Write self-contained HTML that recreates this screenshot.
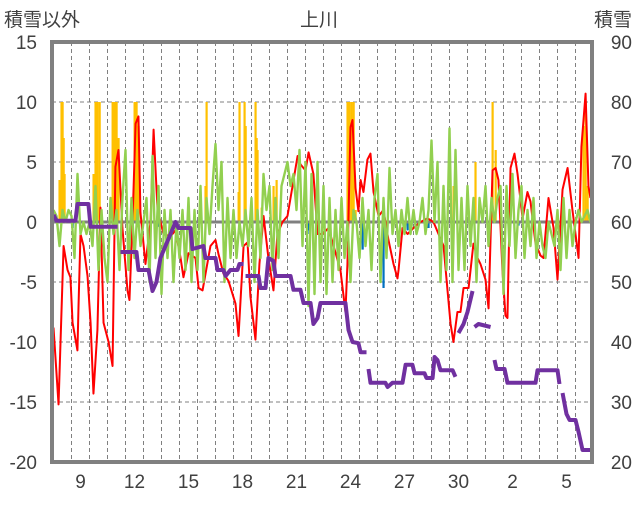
<!DOCTYPE html>
<html><head><meta charset="utf-8"><style>
html,body{margin:0;padding:0;background:#fff}
svg text{font-family:"Liberation Sans","Noto Sans CJK JP",sans-serif;fill:#404040}
</style></head><body>
<svg id="c" width="636" height="501" viewBox="0 0 636 501" xmlns="http://www.w3.org/2000/svg">
<g id="grid"></g>
<g id="bars"></g>
<g id="lines"></g>
<g id="axes"></g>
<text x="4" y="26" font-size="19">積雪以外</text>
<text x="319" y="26" font-size="19" text-anchor="middle">上川</text>
<text x="632" y="26" font-size="19" text-anchor="end">積雪</text>
</svg>
<script>
const leftTicks=[15,10,5,0,-5,-10,-15,-20];
const rightTicks=[90,80,70,60,50,40,30,20];
const dayLabels=["9","12","15","18","21","24","27","30","2","5"];
const dayLabelIdx=[1,4,7,10,13,16,19,22,25,28];
const redT=[0,.28,.56,.78,.94,1.06,1.33,1.39,1.5,1.67,1.89,2.06,2.22,2.44,2.61,2.78,3.06,3.28,3.44,3.61,3.83,4.11,4.22,4.39,4.56,4.72,4.83,5.11,5.39,5.56,5.78,6.11,6.5,6.78,7.06,7.22,7.5,7.89,8.06,8.28,8.72,9,9.17,9.44,9.72,10.11,10.28,10.56,10.78,10.94,11.22,11.44,11.67,11.94,12.22,12.44,12.72,13,13.28,13.56,13.72,14,14.17,14.44,14.67,14.94,15.28,15.56,15.94,16.22,16.33,16.5,16.61,16.78,16.94,17.06,17.22,17.44,17.61,17.78,18.06,18.33,18.61,18.89,19.11,19.17,19.39,19.67,20,20.39,20.78,21.11,21.39,21.67,21.89,22.06,22.22,22.44,22.61,22.78,23.06,23.33,23.56,23.72,24,24.17,24.39,24.56,24.72,24.94,25.11,25.22,25.39,25.61,25.78,26.06,26.33,26.5,26.78,27.06,27.22,27.5,27.78,28,28.28,28.56,28.83,29,29.17,29.33,29.56,29.72,29.83];
const redV=[-8.8,-15.2,-2,-4,-4.6,-8.4,-10.7,-7,-1,-2,-4.5,-8.4,-14.3,-9,1.2,-8.4,-10,-12,4.6,6,-0.5,-5.7,-6.5,0,8.2,8.8,0.8,-3.5,0,7.7,1,-1,-1.2,-0.7,-3,-4.6,-2.6,-3,-5.5,-5.7,-2,-1.5,-2.7,-4.3,-4.9,-6.8,-9.5,-2,-1.7,-6.2,-9.8,-3.5,0.5,-3,-5.7,-1,0,0.5,3,5.5,4.8,4.3,5.8,4,-1,-1,-0.5,-2,-4,-7.5,-3.5,7.9,8.5,2.8,0.9,3.5,2.5,5.2,5.7,2.5,0.5,1,-1.5,-3.5,-4.7,-4,-0.5,-1,-0.5,0,0.3,0,-1,-2,-5.7,-8.5,-10,-7.5,-7.5,-5.5,-5.5,-1.8,-3,-3.5,-4.8,-7.2,4.3,4.5,3.5,-4,-7.8,-8,4.5,5.7,4,0.3,2.5,1.7,-1.8,-2.8,-3,2,-0.5,-4.8,2.7,4.5,1,-1,-3,6.3,10.7,3,2];
const greenV=[1,0.5,-2,1,0,1, 0.5,-3,4,-1,0,-1, 0,-2,3,-4,1,-3, -5,2,-1,1,-4,2, 6,-4,2,-3,1,-2, 0,2,-5,5.5,-3,3, -6,1,-3,1,-5,0, -3,1,-4,2,-5,1, -4,3,-5,2,-1,3, 6.5,1,5,-5,2,-3, 1,-3,0,-2,1,-2, 2,-5,1,-3,4,1, 3,-4,2,-3,3,4, 5,3,4,1,6,-2, 5,-7,4,-6,5,-5, 3,-6,2,-5,1,-4, 2,-3,0,-5,1,0, -3,2,-2,1,-4,2, 4,-5,2,-3,4.5,-1, 1,-2,1,-1,2,-1, 1,-1,0,2,-1,1, 6.8,0,5,-5,3,-4, 7.8,-5,6,-4,2,-4, 3,-2,2,-5,2,0, 3,-2,2,0,2,3, -6,3,-2,4,-3,1, 3,-3,1,-2,2,-3, 0,-2,-3,0,-1,-2, 1,-4,2,-3,1,-2, 0,1,0,0.5,1,0, 0];
const snowT=[0,.17,1.22,1.33,1.94,2.06,3.56,null,3.72,4.61,4.72,5.28,5.5,5.72,5.94,6.22,6.5,6.78,6.94,7.61,7.72,8.33,8.44,9,9.11,9.44,9.56,9.83,10.22,10.33,10.56,null,10.67,11.39,11.5,11.78,11.94,12.22,12.33,13.17,13.33,13.72,13.89,14.28,14.44,14.67,14.83,16.22,16.39,16.61,16.94,17.06,17.39,null,17.5,17.61,18.44,18.56,18.83,19.39,19.56,19.94,20.06,20.61,20.72,21.06,21.17,21.33,21.5,22.17,22.33,null,22.5,22.78,23,23.28,null,23.39,23.61,24.28,null,24.5,24.61,25.06,25.22,26.78,26.89,28,28.11,null,28.28,28.5,28.67,29,29.17,29.39,29.94];
const snowV=[61.2,60.2,60.2,63,63,59.2,59.2,null,55,55,52,52,48.5,50,54,56,58,60,59,59,55.5,56,54,54,52,52,51,52,52,53,53,null,51,51,49,49,54,53.5,51,51,48.7,48.7,46.5,46.5,43,44,46.5,46.5,42,40,39.8,38.3,38.3,null,35.5,33.2,33.2,32.5,33.2,33.2,36.2,36.2,34.8,34.8,34,34,37.5,37,35.3,35.3,34.2,null,41.5,43,45,48.5,null,42.5,43,42.5,null,37,35.5,35.5,33.2,33.2,35.3,35.3,33,null,31.5,28,27,27,25,22,22];
const yelT=[.33,.44,.5,.56,.61,2.22,2.33,2.44,2.56,3.28,3.39,3.5,3.61,4.5,4.61,4.72,8.44,8.5,10.28,10.33,10.61,10.67,11.22,11.28,11.33,11.56,12.22,12.39,16.33,16.44,16.56,16.67,16.78,22.22,23.44,24.39,24.56,29.44,29.56,29.67];
const yelV=[3.5,10,10,7,4,4,10,10,10,10,10,10,7,10,10,8,3,10,2.5,10,10,8,10,7,6,1.2,3,3.5,10,10,10,10,1,3,5,10,6,8,10,3];
const bluT=[1.06,5.67,5.78,6.83,14.11,14.22,17.17,18.33,19.67,20.83,23.17,25.83];
const bluV=[-0.5,-0.5,-0.4,-0.5,-1,-0.7,-2.3,-5.5,-0.7,-0.5,-0.5,-0.3];

const X0=53.5,DX=18,Y0=222,UY=12;
const xs=t=>X0+t*DX;
const yl=v=>Y0-v*UY;
const yr=s=>42+(90-s)*6;
const NS='http://www.w3.org/2000/svg';
function mk(tag,parent,attrs){const e=document.createElementNS(NS,tag);for(const k in attrs)e.setAttribute(k,attrs[k]);parent.appendChild(e);return e;}
const grid=document.getElementById('grid'),bars=document.getElementById('bars'),lines=document.getElementById('lines'),axes=document.getElementById('axes');

leftTicks.forEach((v,i)=>{
  if(v!==15&&v!==-20&&v!==0){const g=mk('line',grid,{x1:52,x2:592,y1:yl(v),y2:yl(v),stroke:'#808080','stroke-width':1,'stroke-dasharray':'4,3'});
  
  }
  const t=mk('text',axes,{x:37,y:yl(v)+7,'font-size':19,'text-anchor':'end'});t.textContent=v;
  
  
  const r=mk('text',axes,{x:632,y:yl(v)+7,'font-size':19,'text-anchor':'end'});r.textContent=rightTicks[i];
  
  
});
for(let k=1;k<30;k++){const g=mk('line',grid,{x1:xs(k),x2:xs(k),y1:42,y2:462,stroke:'#808080','stroke-width':1,'stroke-dasharray':'4,3'});
  
  }
dayLabels.forEach((l,i)=>{const t=mk('text',axes,{x:xs(dayLabelIdx[i]+0.5),y:488,'font-size':19,'text-anchor':'middle'});t.textContent=l;
  
  });

yelT.forEach((t,i)=>{const b=mk('rect',bars,{x:xs(t)-1,y:yl(yelV[i]),width:2.2,height:yl(0)-yl(yelV[i]),fill:'#FFC000'});
  
  });
bluT.forEach((t,i)=>{const b=mk('rect',bars,{x:xs(t)-1,y:yl(0),width:2.2,height:yl(bluV[i])-yl(0),fill:'#0070C0'});
  
  });

const zl=mk('line',lines,{x1:52,x2:592,y1:yl(0),y2:yl(0),stroke:'#808080','stroke-width':3});



const rp=mk('polyline',lines,{points:redT.map((t,i)=>xs(t)+','+yl(redV[i])).join(' '),fill:'none',stroke:'#FF0000','stroke-width':2,'stroke-linejoin':'round'});


const gp=mk('polyline',lines,{points:greenV.map((v,i)=>xs(i/6)+','+yl(v)).join(' '),fill:'none',stroke:'#92D050','stroke-width':2.4,'stroke-linejoin':'round'});



let segs=[],cur=[];
snowT.forEach((t,i)=>{if(t===null){segs.push(cur);cur=[];}else cur.push(xs(t)+','+yr(snowV[i]));});
segs.push(cur);
segs.forEach(s=>{const p=mk('polyline',lines,{points:s.join(' '),fill:'none',stroke:'#7030A0','stroke-width':4,'stroke-linejoin':'round'});
  
  });

const fr=mk('rect',axes,{x:52,y:42,width:540,height:420,fill:'none',stroke:'#808080','stroke-width':4});


</script>
</body></html>
